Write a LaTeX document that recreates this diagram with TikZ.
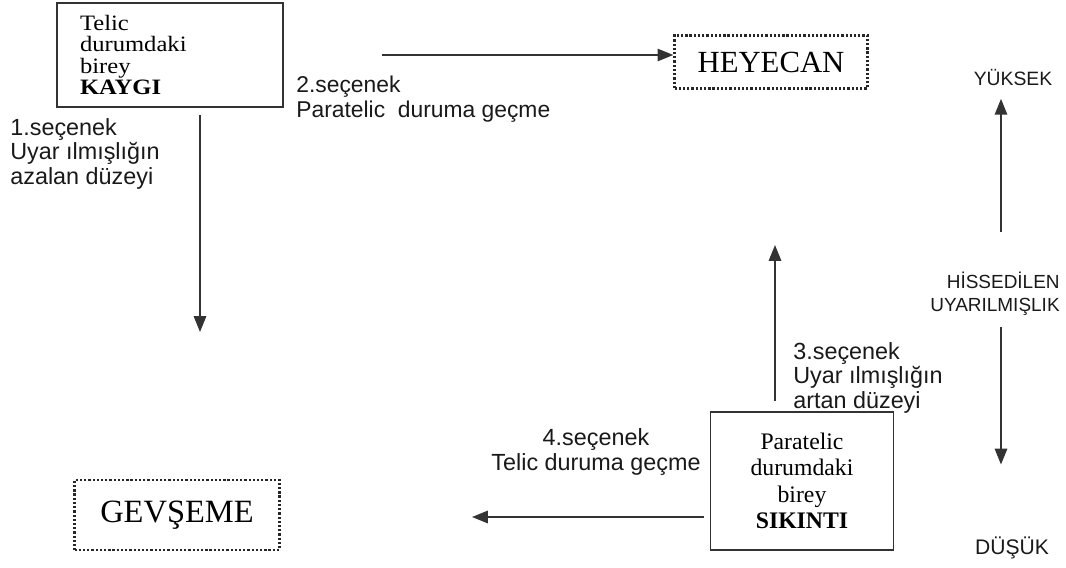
\documentclass[tikz,border=0pt]{standalone}
\usepackage{fontspec}
\setmainfont{Liberation Serif}
\setsansfont{Liberation Sans}
\newfontfamily\boxfont[FakeStretch=1.12]{Liberation Serif}
\usetikzlibrary{arrows.meta}

\begin{document}
\begin{tikzpicture}[x=0.02cm,y=-0.02cm]
  \tikzstyle{box} = [draw=black!80,line width=0.9pt,inner sep=0pt,font=\boxfont\fontsize{12.5}{12}\selectfont]
  \tikzstyle{dotbox} = [draw=black!85,line width=1.3pt,dash pattern=on 1.3pt off 1.1pt,font=\fontsize{17.5}{18}\selectfont]
  \tikzstyle{lbl} = [font=\sffamily\fontsize{13.3}{14}\selectfont,align=left,inner sep=0pt,text=black!90]
  \tikzstyle{arr} = [draw=black!80,line width=1.1pt,-{Triangle[length=9pt,width=7pt]}]
  \useasboundingbox (0,0) rectangle (1066,568);
  % boxes
  \node(kaygi)[box,text width=3.6cm,minimum height=2.08cm,inner xsep=0.46cm,align=left] at (170,55)
    {Telic\\durumdaki\\birey\\\textbf{KAYGI}};
  \node(sikinti)[box,minimum width=3.66cm,minimum height=2.76cm,align=center,font=\fontsize{13.5}{15}\selectfont] at (802,481)
    {Paratelic\\durumdaki\\birey\\\textbf{SIKINTI}};
  \node(heyecan)[dotbox,minimum width=3.86cm,minimum height=1.06cm] at (771,62) {HEYECAN};
  \node(gevseme)[dotbox,minimum width=4.1cm,minimum height=1.4cm,font=\fontsize{18.5}{19}\selectfont] at (177,515) {GEVŞEME};
  % labels
  \node(sec1)[lbl,anchor=north west] at (10,118) {1.seçenek\\Uyar ılmışlığın\\azalan düzeyi};
  \node(sec2)[lbl,anchor=north west,font=\sffamily\fontsize{13}{14}\selectfont] at (296,76) {2.seçenek\\Paratelic\ \ duruma geçme};
  \node(sec3)[lbl,anchor=north west] at (793,342) {3.seçenek\\Uyar ılmışlığın\\artan düzeyi};
  \node(sec4)[lbl,align=center] at (596,452) {4.seçenek\\Telic duruma geçme};
  \node(yuksek)[lbl,font=\sffamily\fontsize{11}{12}\selectfont] at (1013,78) {YÜKSEK};
  \node(hissed)[lbl,align=right,anchor=east,font=\sffamily\fontsize{10.8}{13}\selectfont] at (1060,294) {HİSSEDİLEN\\UYARILMIŞLIK};
  \node(dusuk)[lbl,font=\sffamily\fontsize{12}{13}\selectfont] at (1012,548) {DÜŞÜK};
  % arrows
  \coordinate(c1) at (200,332);
  \coordinate(c2) at (382,55);
  \coordinate(c3) at (775,245);
  \coordinate(c4) at (472,517);
  \coordinate(ax) at (1001,0);
  \draw[arr,shorten <=4pt] (kaygi.south -| c1) -- (c1);
  \draw[arr] (c2) -- (heyecan.west |- c2);
  \draw[arr,shorten <=6pt] (sikinti.north -| c3) -- (c3);
  \draw[arr,shorten <=3pt] (sikinti.west |- c4) -- (c4);
  \draw[arr,shorten <=23pt,shorten >=7pt] (hissed.north -| ax) -- (yuksek.south -| ax);
  \draw[arr,shorten <=6pt,shorten >=41pt] (hissed.south -| ax) -- (dusuk.north -| ax);
\end{tikzpicture}
\end{document}
